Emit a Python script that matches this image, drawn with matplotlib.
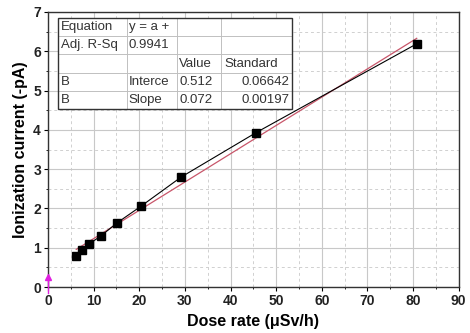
import matplotlib
matplotlib.use("Agg")
import matplotlib.pyplot as plt
import numpy as np

dose_rate = [6.2, 7.5, 9.1, 11.7, 15.1, 20.3, 29.2, 45.6, 80.8]
current = [0.79, 0.94, 1.10, 1.31, 1.63, 2.05, 2.80, 3.93, 6.19]
intercept = 0.512
slope = 0.072

table_rows = [
    ["Equation", "y = a +", "", ""],
    ["Adj. R-Sq", "0.9941", "", ""],
    ["", "", "Value", "Standard"],
    ["B", "Interce", "0.512", "0.06642"],
    ["B", "Slope", "0.072", "0.00197"],
]

plt.rcParams["font.family"] = ["Liberation Sans", "DejaVu Sans"]

fig = plt.figure(figsize=(4.7, 3.33), dpi=100)
ax = fig.add_axes([0.102, 0.138, 0.874, 0.826])

ax.set_xlim(0, 90)
ax.set_ylim(0, 7)
ax.set_xticks(np.arange(0, 91, 10))
ax.set_yticks(np.arange(0, 8, 1))
ax.set_xticks(np.arange(5, 90, 5), minor=True)
ax.set_yticks(np.arange(0.5, 7, 0.5), minor=True)
ax.grid(True, which="major", color="#c8c8c8", lw=0.8, ls="-")
ax.grid(True, which="minor", color="#d0d0d0", lw=0.7, ls=(0, (3, 3)))
ax.set_axisbelow(True)
for s in ax.spines.values():
    s.set_color("#333333")
    s.set_linewidth(1.0)
ax.tick_params(which="major", direction="out", length=3, width=0.8,
               labelsize=10, pad=2)
ax.tick_params(which="minor", direction="out", length=1.5, width=0.6)
for lab in ax.get_xticklabels() + ax.get_yticklabels():
    lab.set_fontweight("bold")
    lab.set_color("#222222")

xfit = np.array([dose_rate[0], dose_rate[-1]])
ax.plot(xfit, intercept + slope * xfit, color="#c8566a", lw=0.9, zorder=3)
ax.plot(dose_rate, current, color="black", lw=0.8, zorder=4)
ax.plot(dose_rate, current, ls="none", marker="s", ms=5.5, color="black", zorder=5)

# magenta origin marker
ax.plot([0, 0], [-0.15, 0.25], color="#e020e0", lw=1.0, clip_on=False, zorder=6)
ax.plot([0], [0.25], marker="^", ms=4, color="#e020e0", clip_on=False, zorder=6)

ax.set_xlabel("Dose rate (\u03bcSv/h)", fontweight="bold", fontsize=11.5, labelpad=4)
ax.set_ylabel("Ionization current (-pA)", fontweight="bold", fontsize=11.5, labelpad=4)

tbl = ax.table(cellText=table_rows, cellLoc="left",
               colWidths=[69, 51, 44, 71],
               bbox=[0.024, 0.647, 0.57, 0.331])
tbl.auto_set_font_size(False)
for (r, c), cell in tbl.get_celld().items():
    cell.set_edgecolor("#bbbbbb")
    cell.set_linewidth(0.6)
    cell.set_facecolor("white")
    cell.get_text().set_fontsize(9.5)
    cell.get_text().set_color("#333333")
    cell.PAD = 0.04
    if c == 3 and r >= 3:
        cell.get_text().set_horizontalalignment("right")
        cell._loc = "right"
tbl.set_zorder(6)
frame = plt.Rectangle((0.024, 0.647), 0.57, 0.331, transform=ax.transAxes,
                      fill=False, edgecolor="#333333", lw=1.0, zorder=7)
ax.add_patch(frame)

fig.savefig("out.png", dpi=100)
